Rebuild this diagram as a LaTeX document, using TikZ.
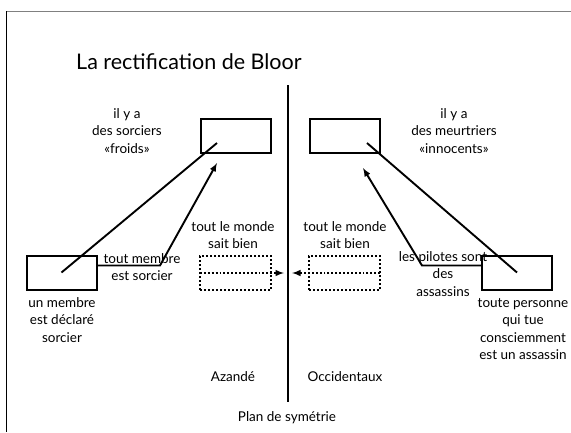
\documentclass[tikz,border=0pt]{standalone}
\usepackage{fontspec}
\setmainfont{Lato}
\usetikzlibrary{positioning}
\usetikzlibrary{calc}
\begin{document}
\begin{tikzpicture}[x=1pt,y=-1pt]

\tikzstyle{box}=[draw,line width=2pt,minimum width=70pt,minimum height=34pt,inner sep=0pt,outer sep=0pt]
\tikzstyle{dotbox}=[draw,dotted,line width=2pt,minimum width=71pt,minimum height=34pt,inner sep=0pt,outer sep=0pt]
\tikzstyle{txt}=[align=center,inner sep=0pt,font=\fontsize{13.5}{17.5}\selectfont]
\tikzstyle{link}=[line width=1.9pt]

\useasboundingbox (0,0) rectangle (571,432);
\draw[gray,line width=1pt] (6,11) -- (571,11);
\draw[line width=1pt] (6,11) -- (6,432);

\node (title) [anchor=west,inner sep=0pt,font=\fontsize{21.5}{24}\selectfont] at (76,62) {La rectification de Bloor};

% plan de symetrie
\coordinate (sym_top) at (288,85);
\coordinate (sym_bot) at (288,402);
\draw [line width=2.4pt] (sym_top) -- (sym_bot);

% boites
\node (froids) [box] at (235.5,136) {};
\node (innocents) [box] at (344.5,136) {};
\node (membre) [box] at (61.5,272.5) {};
\node (personne) [box] at (517,272.5) {};
\node (savoir_l) [dotbox] at (235.5,273) {};
\node (savoir_r) [dotbox] at (344.5,273) {};

% textes
\node (t_froids) [txt] at (127,131) {il y a\\des sorciers\\«froids»};
\node (t_innocents) [txt] at (454,131) {il y a\\des meurtriers\\«innocents»};
\node (t_monde_l) [txt] at (233,235) {tout le monde\\sait bien};
\node (t_monde_r) [txt] at (345,235) {tout le monde\\sait bien};
\node (t_membre) [txt] at (142,267) {tout membre\\est sorcier};
\node (t_pilotes) [txt] at (443,274) {les pilotes sont\\des\\assassins};
\node (t_declare) [txt] at (62,320) {un membre\\est déclaré\\sorcier};
\node (t_personne) [txt] at (523,329) {toute personne\\qui tue\\consciemment\\est un assassin};
\node (azande) [txt] at (233,377) {Azandé};
\node (occident) [txt] at (345,377) {Occidentaux};
\node (plan) [txt] at (287,418) {Plan de symétrie};

% liens
\coordinate (f_in) at (217,143);
\coordinate (i_in) at (367,143);
\draw [link] (membre.center) -- (f_in);
\draw [link] (personne.center) -- (i_in);

\coordinate (k_l) at (160,265.5);
\coordinate (tip_l) at (217,163);
\coordinate (k_r) at (422,265.5);
\coordinate (tip_r) at (363,168);
\draw [link,-latex] ([yshift=7pt]membre.east) -- (k_l) -- (tip_l);
\draw [link,-latex] ([yshift=7pt]personne.west) -- (k_r) -- (tip_r);

\coordinate (d_l) at (284,273);
\coordinate (d_r) at (292,273);
\draw [link,dotted,-latex] (savoir_l.west) -- (d_l);
\draw [link,dotted,-latex] (savoir_r.east) -- (d_r);

\end{tikzpicture}
\end{document}
